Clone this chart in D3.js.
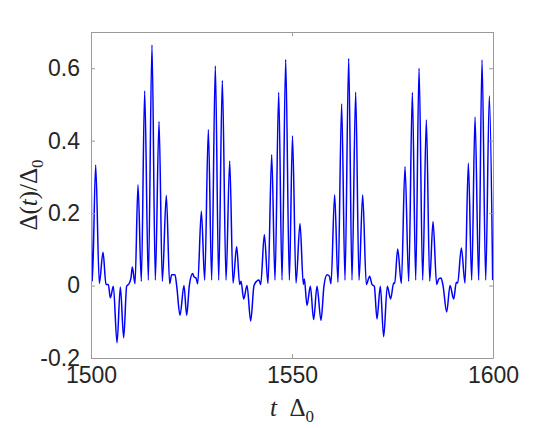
<!DOCTYPE html>
<html><head><meta charset="utf-8">
<script src="https://cdn.jsdelivr.net/npm/d3@7"></script>
<style>body{margin:0;background:#fff}svg{display:block}</style>
</head><body>
<svg id="c" width="545" height="428"></svg>
<script>
const times = [1500.00,1500.33,1501.16,1502.07,1502.99,1503.73,1504.31,1504.81,1505.56,1506.47,1507.30,1508.13,1508.87,1509.45,1509.95,1510.28,1510.95,1511.69,1512.52,1513.35,1514.26,1515.17,1516.00,1516.92,1517.74,1518.74,1519.57,1520.07,1520.90,1521.31,1522.14,1523.13,1523.80,1524.46,1525.29,1525.62,1526.12,1526.54,1527.45,1528.28,1529.19,1530.02,1530.93,1531.76,1532.67,1533.59,1534.50,1535.33,1536.24,1536.98,1537.32,1537.98,1538.81,1539.72,1540.55,1541.21,1541.79,1542.21,1543.12,1544.03,1544.95,1545.77,1546.69,1547.52,1548.43,1549.34,1550.12,1551.00,1551.99,1552.82,1553.07,1553.73,1554.56,1555.39,1556.22,1557.21,1557.96,1558.71,1559.29,1559.70,1560.61,1561.44,1562.35,1563.18,1564.10,1564.92,1565.84,1566.67,1567.58,1568.49,1569.32,1569.90,1570.48,1571.14,1571.97,1572.80,1573.71,1574.54,1575.29,1575.54,1576.29,1577.20,1578.11,1579.03,1579.94,1580.77,1581.60,1582.51,1583.42,1584.25,1585.08,1585.99,1586.49,1587.07,1587.57,1588.48,1589.31,1590.22,1590.88,1591.21,1592.13,1593.04,1593.87,1594.70,1595.53,1596.44,1597.27,1598.18,1599.09,1599.92];
const gap = [0.395,0.012,0.333,0.006,0.092,0.003,0.003,-0.034,-0.002,-0.158,-0.004,-0.144,-0.002,0.005,0.021,0.051,0.005,0.278,0.012,0.537,0.015,0.664,0.015,0.453,0.012,0.249,0.005,0.030,0.030,0.000,-0.082,0.000,-0.082,0.000,0.033,0.024,0.021,0.005,0.205,0.015,0.430,0.015,0.606,0.015,0.566,0.015,0.344,0.007,0.108,0.003,0.012,-0.037,0.000,-0.098,0.000,0.012,0.015,0.003,0.140,0.006,0.361,0.015,0.533,0.015,0.624,0.015,0.413,0.007,0.171,0.003,0.018,-0.055,-0.002,-0.094,-0.002,-0.096,0.000,0.030,0.026,0.005,0.251,0.009,0.501,0.015,0.627,0.015,0.534,0.015,0.251,0.003,0.026,0.003,-0.002,-0.092,-0.002,-0.141,-0.002,-0.037,0.007,0.006,0.101,0.006,0.329,0.012,0.533,0.015,0.600,0.015,0.457,0.012,0.177,0.003,0.018,0.021,0.000,-0.073,0.000,-0.037,0.009,0.007,0.104,0.007,0.338,0.015,0.465,0.015,0.623,0.015,0.523,0.015];
const xTicks = [1500, 1550, 1600];
const yTicks = [-0.2, 0, 0.2, 0.4, 0.6];
const xDomain = [1500, 1600];
const yDomain = [-0.2, 0.7];

const svg = d3.select('#c');
const L = 91, R = 493, T = 32, B = 358;
const x = d3.scaleLinear().domain(xDomain).range([L, R]);
const y = d3.scaleLinear().domain(yDomain).range([B, T]);
const axisColor = '#9a9a9a';
const font = 'Liberation Sans, Arial, Helvetica, sans-serif';

const data = times.map((t, i) => ({t, v: gap[i]}));
svg.append('clipPath').attr('id', 'pc').append('rect')
  .attr('x', L).attr('y', T).attr('width', R - L).attr('height', B - T);
svg.append('path').datum(data)
  .attr('clip-path', 'url(#pc)')
  .attr('fill', 'none').attr('stroke', '#0000ff').attr('stroke-width', 1.5)
  .attr('stroke-linejoin', 'round')
  .attr('d', d3.line().x(d => x(d.t)).y(d => y(d.v)).curve(d3.curveMonotoneX));

const fmtY = v => (v === 0 ? '0' : d3.format('.1f')(v).replace('\u2212', '-'));
function styleAxis(g) {
  g.select('.domain').attr('stroke', axisColor).attr('stroke-width', 1);
  g.selectAll('.tick line').attr('stroke', axisColor);
  g.selectAll('.tick text').attr('fill', '#262626').attr('font-family', font).attr('font-size', 23);
}
svg.append('g').attr('transform', `translate(0,${B})`)
  .call(d3.axisBottom(x).tickValues(xTicks).tickSizeInner(-4).tickSizeOuter(0).tickPadding(9).tickFormat(d3.format('d')))
  .call(styleAxis);
svg.append('g').attr('transform', `translate(0,${T})`)
  .call(d3.axisTop(x).tickValues(xTicks).tickSizeInner(-4).tickSizeOuter(0).tickFormat(''))
  .call(styleAxis);
svg.append('g').attr('transform', `translate(${L},0)`)
  .call(d3.axisLeft(y).tickValues(yTicks).tickSizeInner(-4).tickSizeOuter(0).tickPadding(11).tickFormat(fmtY))
  .call(styleAxis);
svg.append('g').attr('transform', `translate(${R},0)`)
  .call(d3.axisRight(y).tickValues(yTicks).tickSizeInner(-4).tickSizeOuter(0).tickFormat(''))
  .call(styleAxis);

const serif = 'Liberation Serif, Times New Roman, serif';
const xl = svg.append('text').attr('x', (L + R) / 2).attr('y', 416)
  .attr('text-anchor', 'middle').attr('font-family', serif).attr('font-size', 25).attr('fill', '#262626');
xl.append('tspan').attr('font-style', 'italic').text('t');
xl.append('tspan').text('\u2002\u0394');
xl.append('tspan').attr('font-size', 17).attr('dy', 6).text('0');

const yl = svg.append('text').attr('transform', `translate(37,${(T + B) / 2}) rotate(-90)`)
  .attr('text-anchor', 'middle').attr('font-family', serif).attr('font-size', 25).attr('fill', '#262626');
yl.append('tspan').text('\u0394(');
yl.append('tspan').attr('font-style', 'italic').text('t');
yl.append('tspan').text(')/\u0394');
yl.append('tspan').attr('font-size', 17).attr('dy', 6).text('0');
</script>
</body></html>
